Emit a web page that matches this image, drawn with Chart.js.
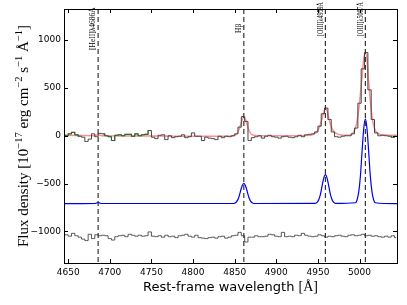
<!DOCTYPE html>
<html>
<head>
<meta charset="utf-8">
<script src="https://cdn.jsdelivr.net/npm/chart.js@4.4.1/dist/chart.umd.min.js"></script>
<style>
html, body { margin: 0; padding: 0; background: #fff; }
</style>
</head>
<body>
<canvas id="spec" width="407" height="305"></canvas>
<script>
// observed spectrum, 4 A bins
const wavelength = [4644, 4648, 4652, 4656, 4660, 4664, 4668, 4672, 4676, 4680,
    4684, 4688, 4692, 4696, 4700, 4704, 4708, 4712, 4716, 4720,
    4724, 4728, 4732, 4736, 4740, 4744, 4748, 4752, 4756, 4760,
    4764, 4768, 4772, 4776, 4780, 4784, 4788, 4792, 4796, 4800,
    4804, 4808, 4812, 4816, 4820, 4824, 4828, 4832, 4836, 4840,
    4844, 4848, 4852, 4856, 4860, 4864, 4868, 4872, 4876, 4880,
    4884, 4888, 4892, 4896, 4900, 4904, 4908, 4912, 4916, 4920,
    4924, 4928, 4932, 4936, 4940, 4944, 4948, 4952, 4956, 4960,
    4964, 4968, 4972, 4976, 4980, 4984, 4988, 4992, 4996, 5000,
    5004, 5008, 5012, 5016, 5020, 5024, 5028, 5032, 5036, 5040,
    5044];
const flux = [10, 0, 20, 35, 10, -5, -15, -60, -35, 20,
    -10, 25, 20, 0, -10, -50, 5, 10, 0, 15,
    15, -5, 20, 0, 10, 15, 55, -15, -30, 5,
    10, -40, 0, -20, -10, -5, 10, -20, -10, 30,
    -5, -5, -50, -15, -25, -30, -40, -5, -20, -5,
    -10, 0, 20, 90, 200, 150, -50, -20, -10, 0,
    -25, -5, 5, -10, -15, -25, -10, -5, -15, -20,
    -10, 5, -10, 10, 15, 20, 40, 100, 230, 290,
    170, 40, -10, -15, -5, 0, 0, 20, 80, 340,
    700, 870, 480, 170, 30, 0, 5, 0, -5, -15,
    -5];
// residuals, drawn with an offset
const residual = [-1040, -1035, -1050, -1020, -1045, -1060, -1080, -1095, -1030, -1075,
    -1035, -1045, -1040, -1045, -1075, -1090, -1055, -1045, -1040, -1055,
    -1030, -1040, -1050, -1040, -1050, -1045, -1005, -1050, -1055, -1045,
    -1060, -1040, -1055, -1050, -1065, -1045, -1040, -1030, -1050, -1060,
    -1040, -1065, -1070, -1075, -1065, -1060, -1070, -1055, -1050, -1070,
    -1060, -1045, -1040, -1010, -1045, -1110, -1060, -1060, -1045, -1055,
    -1055, -1050, -1030, -1035, -1050, -1055, -1010, -1055, -1050, -1055,
    -1040, -1045, -1020, -1040, -1050, -1055, -1050, -1035, -1045, -1060,
    -1050, -1055, -1045, -1040, -1050, -1055, -1040, -1035, -1045, -1040,
    -1030, -1045, -1040, -1050, -1045, -1055, -1060, -1050, -1060, -1045,
    -1065];
// fitting windows shown in green
const maskRanges = [[4644, 4664], [4692, 4748], [5036, 5044]];

// total model
const modelWave = [4645, 4660, 4680, 4684, 4686, 4688, 4692, 4760, 4800, 4845, 4850, 4853, 4855, 4857, 4859, 4861, 4863, 4865, 4867, 4869, 4872, 4880,
    4920, 4940, 4945, 4949, 4952, 4955, 4957, 4959, 4961, 4963, 4965, 4968, 4972, 4978, 4986,
    4990, 4993, 4996, 4999, 5001, 5003, 5005, 5007, 5009, 5011, 5013, 5015, 5017, 5019, 5022, 5027, 5035, 5045];
const modelFlux = [5, 3, 0, 6, 12, 6, 0, -3, -5, -2, 5, 25, 60, 110, 165, 195, 170, 115, 60, 25, 8, 0,
    0, 5, 18, 45, 95, 180, 250, 290, 260, 190, 120, 60, 25, 8, 5,
    15, 40, 110, 270, 430, 620, 800, 870, 790, 560, 360, 200, 110, 55, 25, 10, 5, 5];

// narrow line components, offset below
const compWave = [4645, 4682, 4684, 4686, 4688, 4690,
    4849, 4851, 4853, 4855, 4857, 4859, 4861, 4863, 4865, 4867, 4869, 4871, 4873,
    4947, 4949, 4951, 4953, 4955, 4957, 4959, 4961, 4963, 4965, 4967, 4969, 4971,
    4995, 4997, 4999, 5001, 5003, 5005, 5007, 5009, 5011, 5013, 5015, 5017, 5019, 5045];
const compFlux = [-710, -708, -703, -698, -703, -708,
    -708, -701, -681, -642, -580, -522, -497, -522, -580, -642, -681, -701, -708,
    -707, -697, -669, -613, -525, -442, -406, -442, -525, -613, -669, -697, -707,
    -700, -671, -590, -426, -169, 71, 177, 71, -169, -426, -590, -671, -700, -710];

const lineWaves = [4686, 4861, 4959, 5007];
const lineLabels = ['[HeII]\u03bb4686\u00c5', 'H\u03b2', '[OIII]\u03bb4959\u00c5', '[OIII]\u03bb5007\u00c5'];

const xTicks = [4650, 4700, 4750, 4800, 4850, 4900, 4950, 5000];
const yTicks = [-1000, -500, 0, 500, 1000];

function pts(xs, ys) {
    return xs.map((x, i) => ({ x: x, y: ys[i] }));
}

const dataPts = pts(wavelength, flux);
const maskSets = maskRanges.map(r => dataPts.filter(p => p.x >= r[0] && p.x <= r[1]));

const datasets = [
    { data: pts(wavelength, residual), borderColor: '#555', borderWidth: 1, stepped: 'middle' },
    { data: pts(compWave, compFlux), borderColor: '#0000f0', borderWidth: 1.2, cubicInterpolationMode: 'monotone' },
    { data: dataPts, borderColor: '#444', borderWidth: 1, stepped: 'middle' }
];
maskSets.forEach(s => {
    datasets.push({ data: s, borderColor: '#33bb33', borderWidth: 1.1, stepped: 'middle' });
});
datasets.push({ data: pts(modelWave, modelFlux), borderColor: 'rgba(255,50,50,0.55)', borderWidth: 1.5, cubicInterpolationMode: 'monotone' });

const decorPlugin = {
    id: 'decor',
    afterDatasetsDraw(chart) {
        const ctx = chart.ctx, a = chart.chartArea, xs = chart.scales.x;
        ctx.save();
        ctx.strokeStyle = '#333';
        ctx.lineWidth = 1.2;
        ctx.setLineDash([5, 3]);
        lineWaves.forEach(w => {
            const px = xs.getPixelForValue(w);
            ctx.beginPath();
            ctx.moveTo(px, a.top);
            ctx.lineTo(px, a.bottom);
            ctx.stroke();
        });
        ctx.restore();
    },
    afterDraw(chart) {
        const ctx = chart.ctx, a = chart.chartArea;
        const xs = chart.scales.x, ys = chart.scales.y;
        ctx.save();
        // frame
        ctx.strokeStyle = '#000';
        ctx.lineWidth = 1;
        ctx.strokeRect(Math.round(a.left) + 0.5, Math.round(a.top) + 0.5,
            Math.round(a.right - a.left), Math.round(a.bottom - a.top));
        // inward ticks on all sides
        ctx.beginPath();
        xTicks.forEach(v => {
            const px = Math.round(xs.getPixelForValue(v)) + 0.5;
            ctx.moveTo(px, a.bottom); ctx.lineTo(px, a.bottom - 4);
            ctx.moveTo(px, a.top); ctx.lineTo(px, a.top + 4);
        });
        yTicks.forEach(v => {
            const py = Math.round(ys.getPixelForValue(v)) + 0.5;
            ctx.moveTo(a.left, py); ctx.lineTo(a.left + 4, py);
            ctx.moveTo(a.right, py); ctx.lineTo(a.right - 4, py);
        });
        ctx.stroke();

        // line labels
        ctx.fillStyle = '#000';
        ctx.font = '7.5px "Liberation Serif"';
        ctx.textAlign = 'left';
        ctx.textBaseline = 'bottom';
        const labBottom = [50, 33, 36, 36];
        const labLen = [47, 12, 34, 34];
        lineWaves.forEach((w, i) => {
            const px = xs.getPixelForValue(w);
            ctx.save();
            ctx.translate(px - 1, labBottom[i]);
            ctx.rotate(-Math.PI / 2);
            ctx.fillText(lineLabels[i], 0, 0, labLen[i]);
            ctx.restore();
        });

        // x title
        ctx.textBaseline = 'alphabetic';
        const xa = 'Rest-frame wavelength ', xb = '[\u00c5]';
        ctx.font = '13px "DejaVu Sans"';
        const wa = ctx.measureText(xa).width;
        ctx.font = '14px "Liberation Serif"';
        const wb = ctx.measureText(xb).width;
        let x0 = (a.left + a.right) / 2 - (wa + wb) / 2;
        ctx.font = '13px "DejaVu Sans"';
        ctx.fillText(xa, x0, 291);
        ctx.font = '14px "Liberation Serif"';
        ctx.fillText(xb, x0 + wa, 291);

        // y title with superscripts
        const parts = [
            ['Flux density [10', 0], ['\u221217', 1], [' erg cm', 0], ['\u22122', 1],
            [' s', 0], ['\u22121', 1], [' \u00c5', 0], ['\u22121', 1], [']', 0]
        ];
        const big = '15px "Liberation Serif"', small = '10.5px "Liberation Serif"';
        let total = 0;
        parts.forEach(p => { ctx.font = p[1] ? small : big; total += ctx.measureText(p[0]).width; });
        ctx.save();
        ctx.translate(28, (a.top + a.bottom) / 2);
        ctx.rotate(-Math.PI / 2);
        let cx = -total / 2;
        parts.forEach(p => {
            ctx.font = p[1] ? small : big;
            ctx.fillText(p[0], cx, p[1] ? -6 : 0);
            cx += ctx.measureText(p[0]).width;
        });
        ctx.restore();
        ctx.restore();
    }
};

new Chart(document.getElementById('spec'), {
    type: 'line',
    data: { datasets: datasets },
    options: {
        responsive: false,
        animation: false,
        devicePixelRatio: 1,
        elements: { point: { radius: 0 }, line: { fill: false, tension: 0 } },
        layout: { padding: { left: 0, top: 9, right: 10, bottom: 0 } },
        plugins: { legend: { display: false }, tooltip: { enabled: false } },
        scales: {
            x: {
                type: 'linear',
                min: 4645,
                max: 5045,
                grid: { display: false, drawTicks: false },
                border: { display: false },
                ticks: {
                    color: '#000',
                    padding: 4,
                    maxRotation: 0,
                    font: { family: 'DejaVu Sans', size: 9 },
                    callback: v => String(v)
                },
                afterBuildTicks: s => { s.ticks = xTicks.map(v => ({ value: v })); },
                afterFit: s => { s.height = 42; }
            },
            y: {
                min: -1330,
                max: 1325,
                grid: { display: false, drawTicks: false },
                border: { display: false },
                ticks: {
                    color: '#000',
                    padding: 3,
                    font: { family: 'DejaVu Sans', size: 9 },
                    callback: v => (v < 0 ? '\u2212' + Math.abs(v) : String(v))
                },
                afterBuildTicks: s => { s.ticks = yTicks.map(v => ({ value: v })); },
                afterFit: s => { s.width = 64; }
            }
        }
    },
    plugins: [decorPlugin]
});
</script>
</body>
</html>
